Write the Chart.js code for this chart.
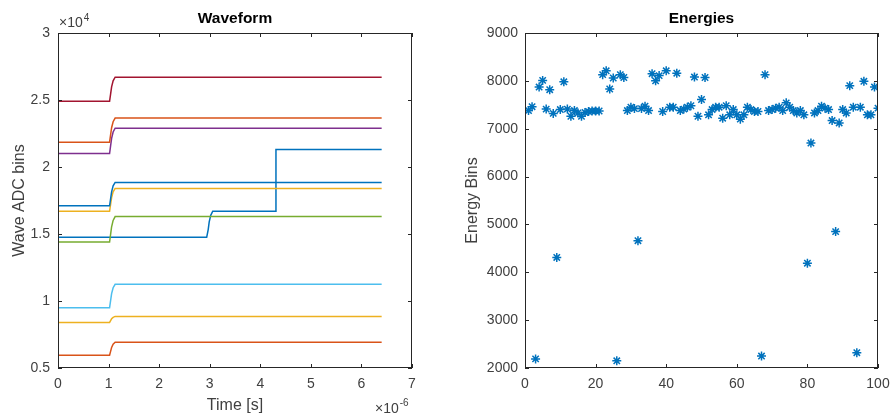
<!DOCTYPE html>
<html>
<head>
<meta charset="utf-8">
<script src="https://cdn.jsdelivr.net/npm/chart.js@4.4.1/dist/chart.umd.min.js"></script>
<style>
  body { margin: 0; background: #fff; }
  #wrap { position: relative; width: 890px; height: 417px; }
  #wave { position: absolute; left: 0; top: 0; }
  #energy { position: absolute; left: 445px; top: 0; }
</style>
</head>
<body>
<div id="wrap">
  <canvas id="wave" width="445" height="417"></canvas>
  <canvas id="energy" width="445" height="417"></canvas>
</div>
<script>
// waveform time axis in microseconds (plotted as x10^-6 s)
var stepTimes = [0, 1.02, 1.04, 1.06, 1.09, 1.13, 6.4];
var pileupTimes = [0, 2.94, 2.97, 2.99, 3.02, 3.06, 4.30, 4.31, 6.4];

// ADC values for each trace, one per time point
var traceRed     = [24900, 24900, 25440, 25980, 26430, 26700, 26700];
var traceOrange1 = [21850, 21850, 22390, 22930, 23380, 23650, 23650];
var tracePurple  = [21000, 21000, 21570, 22140, 22615, 22900, 22900];
var traceBlue1   = [17100, 17100, 17625, 18150, 18590, 18850, 18850];
var traceYellow1 = [16700, 16700, 17210, 17720, 18145, 18400, 18400];
var traceGreen   = [14400, 14400, 14970, 15540, 16015, 16300, 16300];
var traceBlue2   = [14750, 14750, 15330, 15910, 16390, 16700, 16700, 21300, 21300];
var traceCyan    = [9500, 9500, 10025, 10550, 10990, 11250, 11250];
var traceYellow2 = [8400, 8400, 8535, 8670, 8780, 8850, 8850];
var traceOrange2 = [5950, 5950, 6240, 6530, 6775, 6920, 6920];

var waveTicksX = [0, 1, 2, 3, 4, 5, 6, 7];
var waveTicksY = [5000, 10000, 15000, 20000, 25000, 30000];

// energy per event, events 1..100
var energies = [
  7380, 7460, 2190, 7870, 8010, 7410, 7815, 7320, 4310, 7400,
  7980, 7410, 7260, 7380, 7330, 7260, 7340, 7360, 7370, 7370,
  7370, 8130, 8210, 7830, 8060, 2150, 8130, 8070, 7380, 7450,
  7420, 4660, 7420, 7470, 7380, 8150, 8000, 8110, 7360, 8210,
  7450, 7450, 8160, 7380, 7410, 7450, 7480, 8080, 7260, 7610,
  8070, 7290, 7400, 7450, 7450, 7220, 7480, 7290, 7400, 7290,
  7200, 7290, 7450, 7400, 7360, 7360, 2250, 8130, 7380, 7400,
  7430, 7450, 7380, 7540, 7450, 7380, 7330, 7380, 7290, 4190,
  6700, 7330, 7380, 7470, 7430, 7400, 7170, 4850, 7120, 7400,
  7330, 7900, 7450, 2320, 7450, 7990, 7290, 7290, 7870, 7430
];
var energyTicksX = [0, 20, 40, 60, 80, 100];
var energyTicksY = [2000, 3000, 4000, 5000, 6000, 7000, 8000, 9000];

var FONT = "'Liberation Sans', Arial, Helvetica, sans-serif";
var AXIS = '#262626';

function pts(xs, ys) {
  return ys.map(function (y, i) { return { x: xs[i], y: y }; });
}

function line(ctx, x1, y1, x2, y2) {
  ctx.beginPath(); ctx.moveTo(x1, y1); ctx.lineTo(x2, y2); ctx.stroke();
}

// matlab style box, inward ticks, title and exponent labels
var matlabBox = {
  id: 'matlabBox',
  afterDraw: function (chart, args, opts) {
    var ctx = chart.ctx, a = chart.chartArea;
    var sx = chart.scales.x, sy = chart.scales.y;
    var len = 4;
    ctx.save();
    ctx.strokeStyle = AXIS;
    ctx.lineWidth = 1;
    ctx.strokeRect(Math.round(a.left) + 0.5, Math.round(a.top) + 0.5,
      Math.round(a.right - a.left) - 1, Math.round(a.bottom - a.top) - 1);
    sx.ticks.forEach(function (t) {
      var px = Math.round(sx.getPixelForValue(t.value)) + 0.5;
      line(ctx, px, a.bottom, px, a.bottom - len);
      line(ctx, px, a.top, px, a.top + len);
    });
    sy.ticks.forEach(function (t) {
      var py = Math.round(sy.getPixelForValue(t.value)) + 0.5;
      line(ctx, a.left, py, a.left + len, py);
      line(ctx, a.right, py, a.right - len, py);
    });

    ctx.fillStyle = '#000';
    ctx.textAlign = 'center';
    ctx.textBaseline = 'middle';
    ctx.font = 'bold 15.5px ' + FONT;
    ctx.fillText(opts.title, (a.left + a.right) / 2, 19);

    ctx.fillStyle = '#404040';
    ctx.textAlign = 'left';
    ctx.textBaseline = 'alphabetic';
    if (opts.yExp) {
      ctx.font = '14px ' + FONT;
      ctx.fillText('\u00d710', a.left + 1, 27);
      var w = ctx.measureText('\u00d710').width;
      ctx.font = '10px ' + FONT;
      ctx.fillText(opts.yExp, a.left + 1 + w + 1, 21);
    }
    if (opts.xExp) {
      ctx.font = '14px ' + FONT;
      ctx.fillText('\u00d710', a.right - 37, 413);
      var w2 = ctx.measureText('\u00d710').width;
      ctx.font = '10px ' + FONT;
      ctx.fillText(opts.xExp, a.right - 37 + w2 + 1, 406);
    }
    ctx.restore();
  }
};

function fixedTicks(list) {
  return function (scale) {
    scale.ticks = list.map(function (v) { return { value: v }; });
  };
}

function fitX(scale) {
  scale.height = 49;
  scale.paddingLeft = 0;
  scale.paddingRight = 0;
}

function fitY(width) {
  return function (scale) {
    scale.width = width;
    scale.paddingTop = 0;
    scale.paddingBottom = 0;
  };
}

var tickFont = { family: FONT, size: 14 };
var labelFont = { family: FONT, size: 16 };
var noGrid = { display: false, drawTicks: false };

var waveData = [
  [stepTimes, traceBlue1, '#0072BD'],
  [stepTimes, traceOrange1, '#D95319'],
  [stepTimes, traceYellow1, '#EDB120'],
  [stepTimes, tracePurple, '#7E2F8E'],
  [stepTimes, traceGreen, '#77AC30'],
  [stepTimes, traceCyan, '#4DBEEE'],
  [stepTimes, traceRed, '#A2142F'],
  [pileupTimes, traceBlue2, '#0072BD'],
  [stepTimes, traceOrange2, '#D95319'],
  [stepTimes, traceYellow2, '#EDB120']
];

var ctx1 = document.getElementById('wave').getContext('2d');
var waveChart = new Chart(ctx1, {
  type: 'line',
  data: {
    datasets: waveData.map(function (d) {
      return {
        data: pts(d[0], d[1]),
        borderColor: d[2],
        borderWidth: 1.5,
        pointRadius: 0,
        tension: 0,
        fill: false
      };
    })
  },
  options: {
    responsive: false,
    animation: false,
    layout: { padding: { left: 0, right: 33, top: 33, bottom: 0 } },
    plugins: {
      legend: { display: false },
      tooltip: { enabled: false },
      matlabBox: { title: 'Waveform', yExp: '4', xExp: '-6' }
    },
    scales: {
      x: {
        type: 'linear',
        min: 0, max: 7,
        afterBuildTicks: fixedTicks(waveTicksX),
        afterFit: fitX,
        grid: noGrid,
        border: { display: false },
        ticks: { color: '#404040', font: tickFont, padding: 8, maxRotation: 0 },
        title: { display: true, text: 'Time [s]', color: '#404040', font: labelFont, padding: { top: 0, bottom: 2 } }
      },
      y: {
        type: 'linear',
        min: 5000, max: 30000,
        afterBuildTicks: fixedTicks(waveTicksY),
        afterFit: fitY(58),
        grid: noGrid,
        border: { display: false },
        ticks: {
          color: '#404040', font: tickFont, padding: 8,
          callback: function (v) { return String(v / 10000); }
        },
        title: { display: true, text: 'Wave ADC bins', color: '#404040', font: labelFont, padding: { top: 10, bottom: 0 } }
      }
    }
  },
  plugins: [matlabBox]
});

var ctx2 = document.getElementById('energy').getContext('2d');
var energyChart = new Chart(ctx2, {
  type: 'scatter',
  data: {
    datasets: [{
      data: energies.map(function (e, i) { return { x: i + 1, y: e }; }),
      pointStyle: 'star',
      pointRadius: 4.5,
      borderColor: '#0072BD',
      backgroundColor: '#0072BD',
      borderWidth: 1.5
    }]
  },
  options: {
    responsive: false,
    animation: false,
    layout: { padding: { left: 0, right: 12, top: 33, bottom: 0 } },
    plugins: {
      legend: { display: false },
      tooltip: { enabled: false },
      matlabBox: { title: 'Energies' }
    },
    scales: {
      x: {
        type: 'linear',
        min: 0, max: 100,
        afterBuildTicks: fixedTicks(energyTicksX),
        afterFit: fitX,
        grid: noGrid,
        border: { display: false },
        ticks: {
          color: '#404040', font: tickFont, padding: 8, maxRotation: 0,
          callback: function (v) { return String(v); }
        }
      },
      y: {
        type: 'linear',
        min: 2000, max: 9000,
        afterBuildTicks: fixedTicks(energyTicksY),
        afterFit: fitY(80),
        grid: noGrid,
        border: { display: false },
        ticks: {
          color: '#404040', font: tickFont, padding: 7,
          callback: function (v) { return String(v); }
        },
        title: { display: true, text: 'Energy Bins', color: '#404040', font: labelFont, padding: { top: 18, bottom: 0 } }
      }
    }
  },
  plugins: [matlabBox]
});
</script>
</body>
</html>
